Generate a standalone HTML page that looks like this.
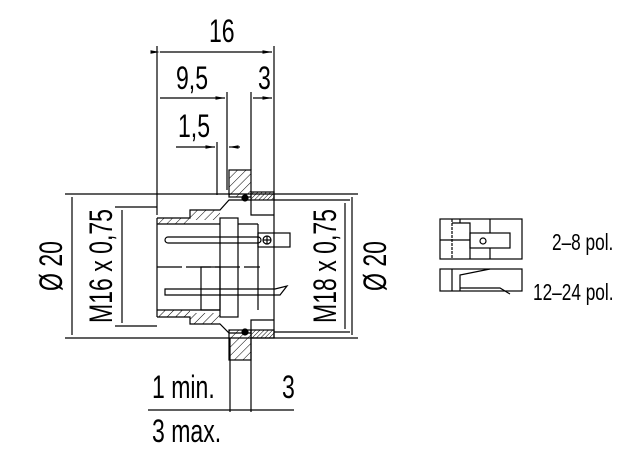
<!DOCTYPE html>
<html><head><meta charset="utf-8"><style>
html,body{margin:0;padding:0;background:#fff;width:644px;height:463px;overflow:hidden}
text{font-family:"Liberation Sans",sans-serif;fill:#000}
</style></head><body>
<svg width="644" height="463" viewBox="0 0 644 463" xmlns="http://www.w3.org/2000/svg">
<defs>
<pattern id="h" width="6" height="6" patternUnits="userSpaceOnUse" patternTransform="rotate(45)"><line x1="0" y1="0" x2="0" y2="6" stroke="#000" stroke-width="1"/></pattern>
<pattern id="hf" width="3" height="3" patternUnits="userSpaceOnUse" patternTransform="rotate(45)"><line x1="0" y1="0" x2="0" y2="3" stroke="#000" stroke-width="1"/></pattern>
<marker id="a" markerWidth="8" markerHeight="6" refX="8" refY="3" orient="auto"><path d="M0,1.5 L8,3 L0,4.5z"/></marker>
</defs>
<g stroke="#000" stroke-width="1.2" fill="none">
<line x1="157" y1="46" x2="157" y2="215"/>
<line x1="274" y1="46" x2="274" y2="193"/>
<line x1="227" y1="92" x2="227" y2="190"/>
<line x1="251" y1="92" x2="251" y2="170"/>
<line x1="217" y1="142" x2="217" y2="195"/>
<line x1="160" y1="52" x2="272" y2="52" marker-end="url(#a)" marker-start="url(#a)"/>
<line x1="160" y1="98" x2="225" y2="98" marker-end="url(#a)"/>
<line x1="253" y1="98" x2="272" y2="98" marker-end="url(#a)"/>
<line x1="176" y1="147" x2="215" y2="147" marker-end="url(#a)"/>
<line x1="240" y1="147" x2="229" y2="147" marker-end="url(#a)"/>
<line x1="65" y1="194" x2="358" y2="194"/>
<line x1="65" y1="338" x2="358" y2="338"/>
<line x1="115" y1="207" x2="157" y2="207"/>
<line x1="115" y1="326" x2="157" y2="326"/>
<line x1="274" y1="200" x2="350" y2="200"/>
<line x1="274" y1="332" x2="350" y2="332"/>
<line x1="72" y1="197" x2="72" y2="335"/>
<line x1="122" y1="210" x2="122" y2="323"/>
<line x1="345" y1="203" x2="345" y2="329"/>
<line x1="352" y1="197" x2="352" y2="335"/>
<rect x="229" y="170" width="22" height="27" fill="url(#h)"/>
<rect x="229" y="330" width="22" height="30" fill="url(#h)"/>
<rect x="251" y="192" width="23" height="8" fill="url(#hf)"/>
<rect x="251" y="330" width="23" height="8" fill="url(#hf)"/>
<path d="M157 218 L190 218 L190 210 L220 210 L229 200 L251 200 L251 215 L274 215" />
<path d="M157 317 L190 317 L190 324 L220 324 L229 333 L251 333 L251 320 L274 320"/>
<path d="M157 218 L157 317"/>
<rect x="157" y="218" width="33" height="6" fill="url(#h)" stroke="none"/>
<rect x="190" y="210" width="30" height="10" fill="url(#h)" stroke="none"/>
<rect x="157" y="310" width="33" height="7" fill="url(#h)" stroke="none"/>
<rect x="190" y="313" width="30" height="11" fill="url(#h)" stroke="none"/>
<line x1="157" y1="224" x2="220" y2="224"/>
<line x1="157" y1="310" x2="220" y2="310"/>
<rect x="220" y="218" width="18" height="99"/>
<rect x="201" y="267" width="19" height="43"/>
<line x1="238" y1="224" x2="258" y2="224"/>
<line x1="258" y1="224" x2="258" y2="310"/>
<line x1="274" y1="194" x2="274" y2="338"/>
<line x1="157" y1="267" x2="260" y2="267" stroke-dasharray="25 4"/>
<rect x="165" y="237" width="96" height="6" rx="3"/>
<rect x="258" y="233" width="32" height="14"/>
<circle cx="267" cy="240" r="4"/>
<line x1="263" y1="240" x2="271" y2="240"/>
<line x1="267" y1="236" x2="267" y2="244"/>
<path d="M165 289 L275 289 L287 286 L280 295 L165 295 Z"/>
<circle cx="245" cy="198" r="3" fill="#000"/>
<circle cx="245" cy="332" r="3" fill="#000"/>
<line x1="230" y1="338" x2="230" y2="412"/>
<line x1="251" y1="338" x2="251" y2="412"/>
<line x1="148" y1="410" x2="294" y2="410"/>
<rect x="440" y="219" width="82" height="40"/>
<line x1="452" y1="219" x2="452" y2="259" stroke-dasharray="3 1"/>
<path d="M452 223 L470 223 L470 259"/>
<line x1="460" y1="219" x2="460" y2="223"/>
<line x1="440" y1="240" x2="470" y2="240"/>
<rect x="470" y="233" width="40" height="15"/>
<line x1="490" y1="219" x2="490" y2="233"/><line x1="490" y1="248" x2="490" y2="259"/>
<circle cx="483" cy="241" r="3"/>
<rect x="440" y="269" width="82" height="22"/>
<line x1="452" y1="269" x2="452" y2="291"/>
<path d="M460 291 L460 275 L490 269"/>
<path d="M460 288 L500 288 L510 294"/>
</g>
<g font-size="32">
<text transform="translate(209,42) scale(0.72,1)">16</text>
<text transform="translate(176,89) scale(0.72,1)">9,5</text>
<text transform="translate(258,89) scale(0.72,1)">3</text>
<text transform="translate(178,137) scale(0.72,1)">1,5</text>
<text transform="translate(152,398) scale(0.72,1)">1 min.</text>
<text transform="translate(282,398) scale(0.72,1)">3</text>
<text transform="translate(152,442) scale(0.72,1)">3 max.</text>
<text transform="translate(62,266) rotate(-90) scale(0.72,1)" text-anchor="middle">Ø 20</text>
<text transform="translate(112,266) rotate(-90) scale(0.72,1)" text-anchor="middle">M16 x 0,75</text>
<text transform="translate(336,266) rotate(-90) scale(0.72,1)" text-anchor="middle">M18 x 0,75</text>
<text transform="translate(386,266) rotate(-90) scale(0.72,1)" text-anchor="middle">Ø 20</text>
</g>
<g font-size="23">
<text transform="translate(552,250) scale(0.75,1)">2–8 pol.</text>
<text transform="translate(533,300) scale(0.75,1)">12–24 pol.</text>
</g>
</svg>
</body></html>
